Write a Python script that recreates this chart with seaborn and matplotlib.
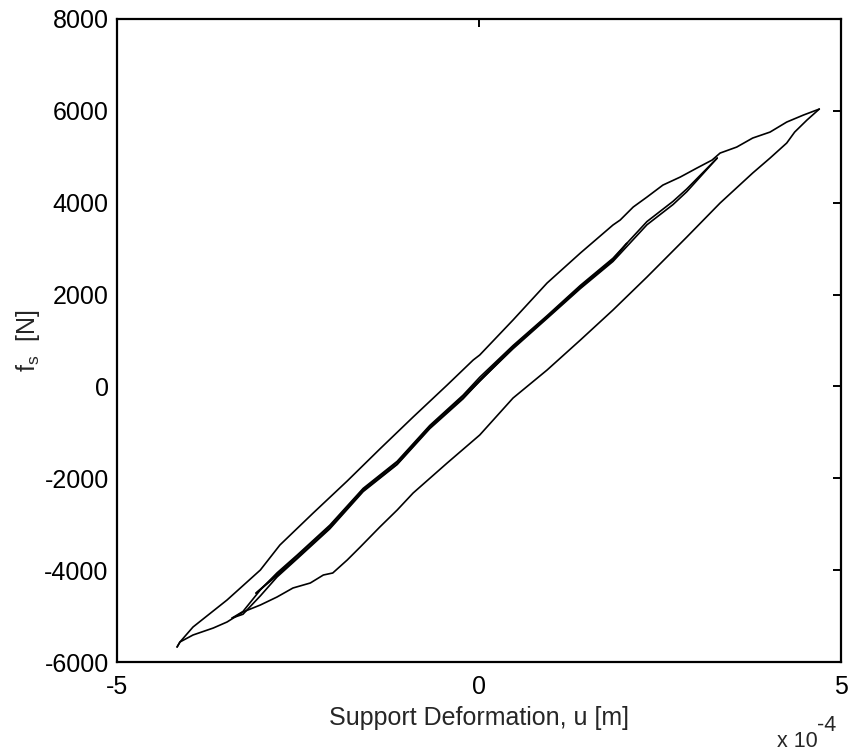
import matplotlib
matplotlib.use("Agg")
import matplotlib.pyplot as plt
import seaborn as sns

# Support deformation u (units of 1e-4 m) and support force f_s (N)

# outer cycle, loading branch (bottom-left tip -> top-right tip)
outer_load_u = [-4.17, -4.13, -3.95, -3.67, -3.48, -3.26, -3.02, -2.79, -2.57, -2.33,
                -2.15, -2.02, -1.82, -1.64, -1.37, -1.13, -0.91, -0.44, 0.01, 0.47,
                0.94, 1.40, 1.85, 2.32, 2.87, 3.33, 3.78, 4.02, 4.25, 4.36, 4.53, 4.70]
outer_load_f = [-5673, -5564, -5412, -5260, -5129, -4911, -4759, -4585, -4389, -4280,
                -4106, -4062, -3779, -3496, -3061, -2691, -2321, -1668, -1058, -253,
                357, 1010, 1663, 2382, 3252, 3993, 4646, 4972, 5299, 5538, 5800, 6039]

# outer cycle, unloading branch (top-right tip -> bottom-left tip)
outer_unload_u = [4.70, 4.48, 4.25, 4.02, 3.78, 3.56, 3.33, 3.22, 3.01, 2.78,
                  2.54, 2.32, 2.13, 1.95, 1.85, 1.40, 0.94, 0.47, 0.01, -0.08,
                  -0.44, -0.91, -1.37, -1.82, -2.29, -2.75, -3.02, -3.48, -3.95, -4.13, -4.17]
outer_unload_f = [6039, 5908, 5756, 5538, 5408, 5212, 5081, 4929, 4755, 4559,
                  4384, 4123, 3906, 3623, 3514, 2904, 2251, 1446, 684, 575,
                  30, -666, -1363, -2059, -2756, -3453, -3997, -4650, -5238, -5564, -5673]

# middle cycle, loading branch
mid_load_u = [-3.41, -3.26, -3.02, -2.79, -2.51, -2.06, -1.60, -1.13, -0.68, -0.22,
              0.01, 0.47, 0.94, 1.40, 1.85, 2.32, 2.68, 2.87, 3.29]
mid_load_f = [-5042, -4960, -4560, -4150, -3750, -3100, -2290, -1700, -920, -270,
              120, 820, 1480, 2130, 2720, 3520, 3960, 4240, 4972]

# middle cycle, unloading branch
mid_unload_u = [3.29, 2.87, 2.68, 2.32, 1.85, 1.40, 0.94, 0.47, 0.01, -0.22,
                -0.68, -1.13, -1.60, -2.06, -2.51, -2.79, -3.02, -3.26, -3.41]
mid_unload_f = [4972, 4300, 4030, 3590, 2790, 2200, 1540, 890, 200, -190,
                -850, -1630, -2220, -3020, -3670, -4060, -4430, -4900, -5042]

# small cycle
small_load_u = [-3.08, -2.79, -2.51, -2.06, -1.60, -1.13, -0.68, -0.22, 0.47, 0.94, 1.40, 1.85, 2.04]
small_load_f = [-4500, -4120, -3730, -3080, -2270, -1690, -900, -250, 840, 1500, 2150, 2740, 3113]
small_unload_u = [2.04, 1.85, 1.40, 0.94, 0.47, -0.22, -0.68, -1.13, -1.60, -2.06, -2.51, -2.79, -3.08]
small_unload_f = [3113, 2770, 2180, 1520, 870, -210, -870, -1650, -2240, -3040, -3690, -4090, -4500]

branches = [
    (outer_load_u, outer_load_f),
    (mid_load_u, mid_load_f),
    (mid_unload_u, mid_unload_f),
    (small_load_u, small_load_f),
    (small_unload_u, small_unload_f),
    (outer_unload_u, outer_unload_f),
]

x_ticks = [-5, 0, 5]
y_ticks = [-6000, -4000, -2000, 0, 2000, 4000, 6000, 8000]

sns.set_style("white")
plt.rcParams["font.family"] = ["Liberation Sans", "DejaVu Sans"]
plt.rcParams["mathtext.fontset"] = "custom"
plt.rcParams["mathtext.rm"] = "Liberation Sans"
plt.rcParams["mathtext.it"] = "Liberation Sans"

fig = plt.figure(figsize=(8.53, 7.51), dpi=100)
ax = fig.add_axes([117 / 853, 1 - 662 / 751, 724 / 853, 643 / 751])

for u, f in branches:
    sns.lineplot(x=[v * 1e-4 for v in u], y=f, ax=ax, sort=False, estimator=None,
                 color="black", linewidth=1.2)

ax.set_xlim(-5e-4, 5e-4)
ax.set_ylim(-6000, 8000)
ax.set_xticks([t * 1e-4 for t in x_ticks])
ax.set_xticklabels([str(t) for t in x_ticks])
ax.set_yticks(y_ticks)
ax.set_yticklabels([str(t) for t in y_ticks])

for s in ax.spines.values():
    s.set_visible(True)
    s.set_color("black")
    s.set_linewidth(1.6)

ax.tick_params(direction="in", length=6, width=1.4, top=True, right=True,
               labelsize=18, colors="black")
ax.tick_params(axis="x", pad=9)
ax.tick_params(axis="y", pad=6)

ax.set_xlabel("Support Deformation, u [m]", fontsize=18)
ax.xaxis.set_label_coords(0.5, -0.068)
ax.xaxis.label.set_va("top")
ax.set_ylabel(r"f$_{\mathregular{s}}$  [N]", fontsize=18)
ax.yaxis.set_label_coords(-0.104, 0.5)

fig.text(777 / 853, 1 - 747 / 751, "x 10", fontsize=15.5, ha="left", va="baseline")
fig.text(817 / 853, 1 - 731 / 751, "-4", fontsize=15.5, ha="left", va="baseline")

fig.savefig("out.png", dpi=100, facecolor="white")
